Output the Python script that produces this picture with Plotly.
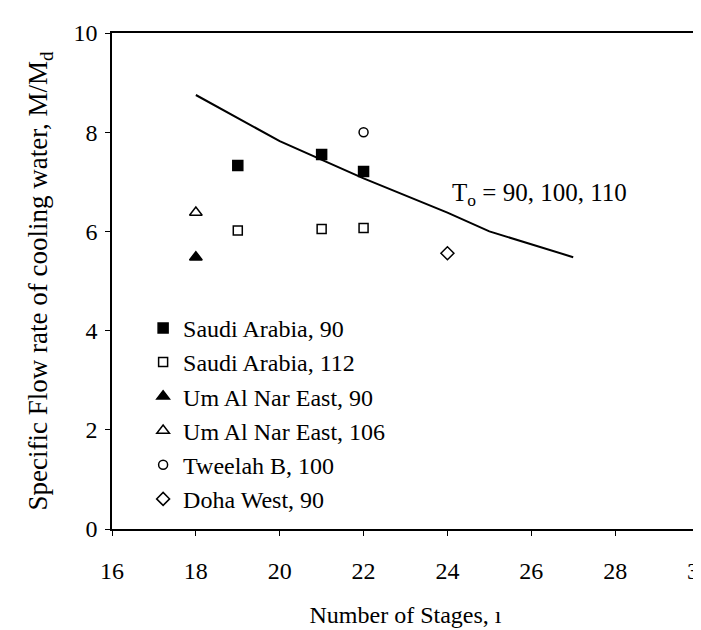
import plotly.graph_objects as go

# Observed plant data
saudi90_x = [19, 21, 22]
saudi90_y = [7.33, 7.55, 7.21]
saudi112_x = [19, 21, 22]
saudi112_y = [6.02, 6.05, 6.07]
umnar90_x = [18]
umnar90_y = [5.48]
umnar106_x = [18]
umnar106_y = [6.38]
tweelah100_x = [22]
tweelah100_y = [8.0]
doha90_x = [24]
doha90_y = [5.56]

# Model line
model_x = [18, 20, 22, 24, 25, 27]
model_y = [8.75, 7.82, 7.07, 6.38, 6.0, 5.48]

x_ticks = [16, 18, 20, 22, 24, 26, 28, 30]
y_ticks = [0, 2, 4, 6, 8, 10]

FONT = "Liberation Serif"

fig = go.Figure()

fig.add_trace(go.Scatter(x=model_x, y=model_y, mode="lines",
                         line=dict(color="black", width=2), showlegend=False))

series = [
    ("Saudi Arabia, 90", saudi90_x, saudi90_y, "square", 10),
    ("Saudi Arabia, 112", saudi112_x, saudi112_y, "square-open", 9),
    ("Um Al Nar East, 90", umnar90_x, umnar90_y, "triangle-up", 11),
    ("Um Al Nar East, 106", umnar106_x, umnar106_y, "triangle-up-open", 11),
    ("Tweelah B, 100", tweelah100_x, tweelah100_y, "circle-open", 9),
    ("Doha West, 90", doha90_x, doha90_y, "diamond-open", 10),
]
for name, xs, ys, sym, sz in series:
    fig.add_trace(go.Scatter(x=xs, y=ys, mode="markers", name=name,
                             marker=dict(symbol=sym, size=sz, color="black",
                                         line=dict(color="black", width=1.5))))

fig.add_annotation(x=24.05, y=6.75, xref="x", yref="y",
                   text="T<sub>o</sub> = 90, 100, 110", showarrow=False,
                   xanchor="left", yanchor="middle",
                   font=dict(family=FONT, size=25, color="black"))

axis_common = dict(showline=True, linecolor="black", linewidth=1.5, mirror=True,
                   showgrid=False, zeroline=False, ticks="outside", ticklen=5,
                   tickcolor="black", ticklabeloverflow="allow",
                   tickfont=dict(family=FONT, size=24, color="black"))

fig.update_xaxes(range=[16, 30], tickvals=x_ticks, ticktext=[str(v) for v in x_ticks],
                 title=dict(text="Number of Stages, ı", font=dict(family=FONT, size=24, color="black"),
                            standoff=24),
                 ticklabelstandoff=14, **axis_common)
fig.update_yaxes(range=[0, 10], tickvals=y_ticks, ticktext=[str(v) for v in y_ticks],
                 title=dict(text="Specific Flow rate of cooling water, M/M<sub>d</sub>",
                            font=dict(family=FONT, size=27, color="black"), standoff=18),
                 ticklabelstandoff=3, **axis_common)

fig.update_layout(
    width=701, height=630,
    margin=dict(l=104, r=10, t=25, b=109, autoexpand=False),
    paper_bgcolor="white", plot_bgcolor="white",
    font=dict(family=FONT, size=24, color="black"),
    legend=dict(x=0.053, y=0.45, xanchor="left", yanchor="top",
                bgcolor="rgba(0,0,0,0)", borderwidth=0,
                font=dict(family=FONT, size=24, color="black"),
                tracegroupgap=0, itemsizing="trace"),
)

fig.write_html("out.html")
